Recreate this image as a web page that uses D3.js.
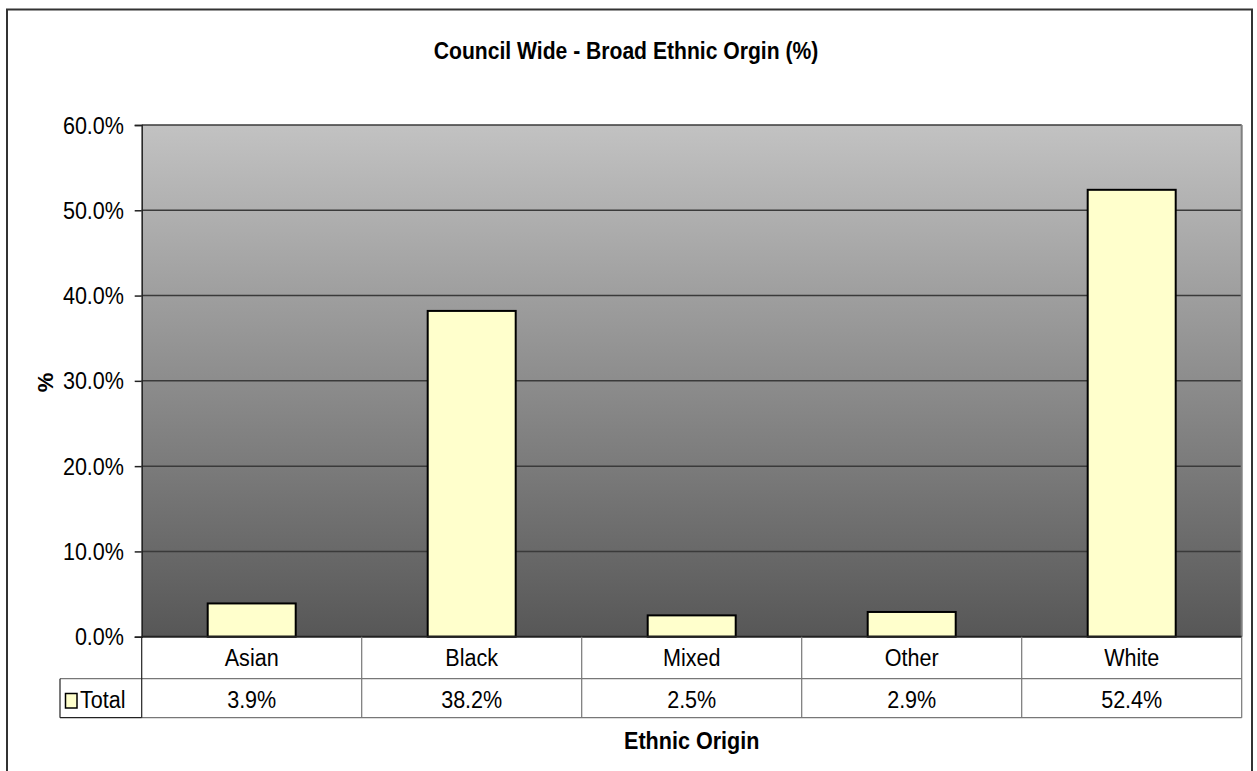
<!DOCTYPE html>
<html>
<head>
<meta charset="utf-8">
<script src="https://cdn.jsdelivr.net/npm/d3@7"></script>
<style>
  html, body { margin: 0; padding: 0; background: #fff; }
  svg { display: block; font-family: "Liberation Sans", Arial, sans-serif; }
</style>
</head>
<body>
<svg id="chart" width="1257" height="771"></svg>
<script>
// Broad ethnic origin, council wide, percent of total
const categories = ["Asian", "Black", "Mixed", "Other", "White"];
const totals = [3.9, 38.2, 2.5, 2.9, 52.4];
const yTicks = [0, 10, 20, 30, 40, 50, 60];
const seriesName = "Total";
const chartTitle = "Council Wide - Broad Ethnic Orgin (%)";
const xTitle = "Ethnic Origin";
const yTitle = "%";

const svg = d3.select("#chart");

const plot = { left: 141.7, right: 1241.7, top: 125, bottom: 636.7 };
const rowH = [42, 39];
const FS = 24.5;      // body text size
const SX = 0.88;      // horizontal squeeze for the tall, narrow lettering

// places a text item at (x, y) with the squeezed lettering
function label(parent, x, y, str, opts = {}) {
  return parent.append("text")
    .attr("transform", `translate(${x},${y}) scale(${SX},1)`)
    .attr("text-anchor", opts.anchor || "start")
    .attr("font-size", opts.size || FS)
    .attr("font-weight", opts.bold ? "bold" : "normal")
    .attr("fill", "#000")
    .text(str);
}

// outer frame (bottom edge runs off the page)
svg.append("rect")
  .attr("x", 7).attr("y", 9.5).attr("width", 1245).attr("height", 780)
  .attr("fill", "#fff").attr("stroke", "#333").attr("stroke-width", 2);

const x = d3.scaleBand().domain(categories).range([plot.left, plot.right]).paddingInner(0).paddingOuter(0);
const y = d3.scaleLinear().domain([0, 60]).range([plot.bottom, plot.top]);

// plot background gradient
const defs = svg.append("defs");
const grad = defs.append("linearGradient").attr("id", "bg").attr("x1", 0).attr("y1", 0).attr("x2", 0).attr("y2", 1);
grad.append("stop").attr("offset", "0%").attr("stop-color", "#c2c2c2");
grad.append("stop").attr("offset", "100%").attr("stop-color", "#575757");

svg.append("rect")
  .attr("x", plot.left).attr("y", plot.top)
  .attr("width", plot.right - plot.left).attr("height", plot.bottom - plot.top)
  .attr("fill", "url(#bg)");

// horizontal gridlines
svg.append("g").selectAll("line").data(yTicks.filter(d => d > 0)).join("line")
  .attr("x1", plot.left).attr("x2", plot.right)
  .attr("y1", d => y(d)).attr("y2", d => y(d))
  .attr("stroke", "#3a3a3a").attr("stroke-width", 1.5);

// plot area right edge
svg.append("line")
  .attr("x1", plot.right).attr("x2", plot.right).attr("y1", plot.top).attr("y2", plot.bottom)
  .attr("stroke", "#808080").attr("stroke-width", 2);

// y axis: line and ticks from d3, labels squeezed like the rest of the text
const yAxis = d3.axisLeft(y).tickValues(yTicks).tickSize(7).tickFormat("");
const gy = svg.append("g").attr("transform", `translate(${plot.left},0)`).call(yAxis);
gy.select(".domain").attr("stroke", "#222").attr("stroke-width", 1.5);
gy.selectAll(".tick line").attr("stroke", "#222").attr("stroke-width", 1.5);
const yLab = svg.append("g");
yTicks.forEach(t => label(yLab, 124, y(t) + 8.5, t.toFixed(1) + "%", { anchor: "end" }));

// bars
const barW = x.bandwidth() * 0.4;
svg.append("g").selectAll("rect").data(categories).join("rect")
  .attr("x", d => x(d) + (x.bandwidth() - barW) / 2)
  .attr("y", (d, i) => y(totals[i]))
  .attr("width", barW)
  .attr("height", (d, i) => y(0) - y(totals[i]))
  .attr("fill", "#ffffcc").attr("stroke", "#000").attr("stroke-width", 2);

// baseline
svg.append("line")
  .attr("x1", plot.left).attr("x2", plot.right).attr("y1", plot.bottom).attr("y2", plot.bottom)
  .attr("stroke", "#222").attr("stroke-width", 2);

// data table below the plot
const t0 = plot.bottom, t1 = t0 + rowH[0], t2 = t1 + rowH[1];
const legendLeft = 60;
const tbl = svg.append("g").attr("stroke", "#777").attr("stroke-width", 1.2).attr("fill", "none");
tbl.append("line").attr("x1", plot.left).attr("x2", plot.right).attr("y1", t2).attr("y2", t2);
tbl.append("line").attr("x1", legendLeft).attr("x2", plot.right).attr("y1", t1).attr("y2", t1);
tbl.append("line").attr("x1", legendLeft).attr("x2", legendLeft).attr("y1", t1).attr("y2", t2).attr("stroke", "#222");
tbl.append("line").attr("x1", legendLeft).attr("x2", plot.left).attr("y1", t2).attr("y2", t2).attr("stroke", "#222");
tbl.append("line").attr("x1", plot.left).attr("x2", plot.left).attr("y1", t0).attr("y2", t2).attr("stroke", "#222");
tbl.selectAll("line.col").data(categories.slice(1)).join("line").attr("class", "col")
  .attr("x1", d => x(d)).attr("x2", d => x(d)).attr("y1", t0).attr("y2", t2);
tbl.append("line").attr("x1", plot.right).attr("x2", plot.right).attr("y1", t0).attr("y2", t2);

const catLab = svg.append("g");
categories.forEach(c => label(catLab, x(c) + x.bandwidth() / 2, 666, c, { anchor: "middle" }));
const valLab = svg.append("g");
totals.forEach((v, i) => label(valLab, x(categories[i]) + x.bandwidth() / 2, 708, v.toFixed(1) + "%", { anchor: "middle" }));

// legend key in the table
svg.append("rect").attr("x", 65.5).attr("y", 693.5).attr("width", 11.5).attr("height", 14.5)
  .attr("fill", "#ffffcc").attr("stroke", "#000").attr("stroke-width", 1.5);
label(svg, 80, 708, seriesName);

// titles
label(svg, 626, 59, chartTitle, { anchor: "middle", bold: true, size: 24 });
label(svg, (plot.left + plot.right) / 2, 749, xTitle, { anchor: "middle", bold: true });
svg.append("text").attr("transform", `translate(52.5,382.5) rotate(-90)`).attr("text-anchor", "middle")
  .attr("font-size", 22).attr("font-weight", "bold").text(yTitle);
</script>
</body>
</html>
